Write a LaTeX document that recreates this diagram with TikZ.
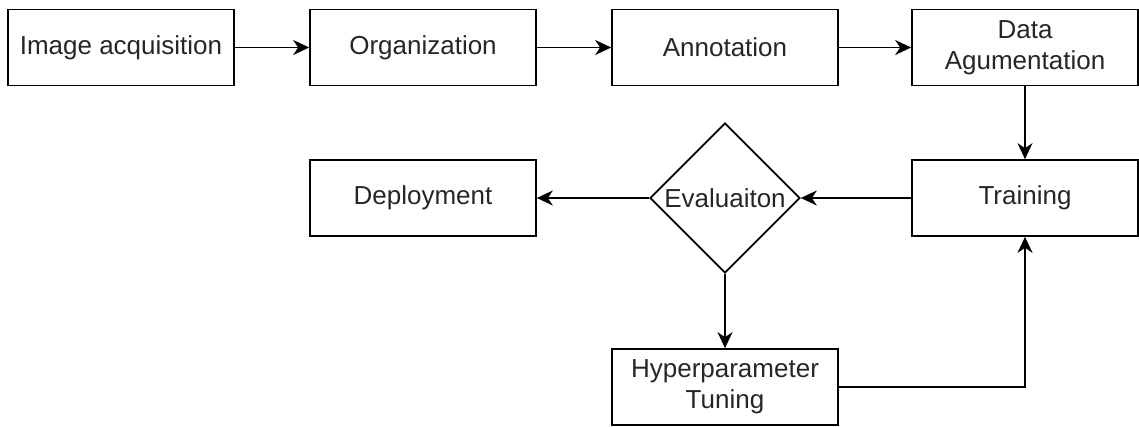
\documentclass[tikz,border=0pt]{standalone}
\usepackage{fontspec}
\setmainfont{Liberation Sans}
\usetikzlibrary{shapes.geometric,arrows.meta}
\begin{document}
\begin{tikzpicture}[x=0.5pt,y=-0.5pt,
  boxnode/.style={draw=black,line width=0.85pt,minimum width=113pt,minimum height=38pt,inner sep=0pt,align=center,font=\fontsize{13}{15.5}\selectfont,text=black!85},
  decnode/.style={draw=black,line width=0.85pt,diamond,aspect=1,minimum width=75pt,minimum height=75pt,inner sep=0pt,font=\fontsize{13}{15.5}\selectfont,text=black!85},
  conn/.style={line width=0.85pt,-{Stealth[length=8pt,width=7.5pt,inset=2.5pt]}}]
\useasboundingbox (0,0) rectangle (1139,427);
\node[boxnode] (ia) at (121,47.5) {Image acquisition};
\node[boxnode] (org) at (423,47.5) {Organization};
\node[boxnode] (ann) at (725,47.5) {Annotation};
\node[boxnode] (da) at (1025,47.5) {Data\\Agumentation};
\node[boxnode] (tr) at (1025,198) {Training};
\node[decnode] (ev) at (725,198) {Evaluaiton};
\node[boxnode] (dep) at (423,198) {Deployment};
\node[boxnode] (hp) at (725,387) {Hyperparameter\\Tuning};
\draw[conn] (ia) -- (org);
\draw[conn] (org) -- (ann);
\draw[conn] (ann) -- (da);
\draw[conn] (da) -- (tr);
\draw[conn] (tr) -- (ev);
\draw[conn] (ev) -- (dep);
\draw[conn] (ev) -- (hp);
\draw[conn] (hp.east) -| (tr.south);
\end{tikzpicture}
\end{document}
